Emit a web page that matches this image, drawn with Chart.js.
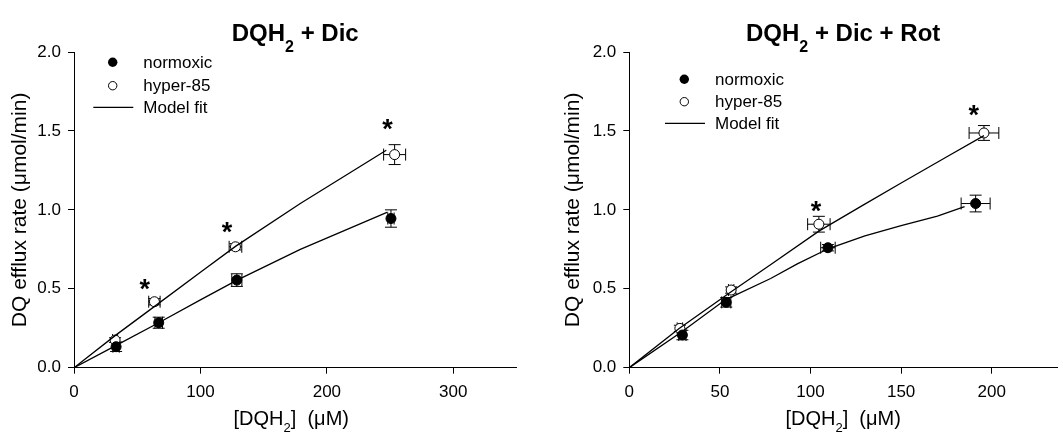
<!DOCTYPE html>
<html>
<head>
<meta charset="utf-8">
<script src="https://cdn.jsdelivr.net/npm/chart.js@4.4.1/dist/chart.umd.min.js"></script>
<style>
  html, body { margin: 0; padding: 0; background: #fff; }
  #wrap { position: relative; width: 1063px; height: 433px; background: #fff; }
  .panel { position: absolute; top: 0; height: 433px; }
  #left { left: 0; width: 540px; }
  #right { left: 540px; width: 523px; }
</style>
</head>
<body>
<div id="wrap">
  <div class="panel" id="left"><canvas id="chartLeft"></canvas></div>
  <div class="panel" id="right"><canvas id="chartRight"></canvas></div>
</div>
<script>
// shared ticks
const yTicks = [0, 0.5, 1.0, 1.5, 2.0]
const leftXTicks = [0, 100, 200, 300]
const rightXTicks = [0, 50, 100, 150, 200]

// panel 1: DQH2 + Dic
const dicNormX = [33.3, 67, 128.8, 250.7]
const dicNormY = [0.133, 0.285, 0.555, 0.945]
const dicNormXErr = [2.5, 3, 4, 2.5]
const dicNormYErr = [0.03, 0.035, 0.04, 0.055]
const dicHypX = [32.5, 63.6, 127.7, 253.6]
const dicHypY = [0.175, 0.418, 0.766, 1.35]
const dicHypXErr = [2, 4.5, 5, 8.7]
const dicHypYErr = [0.015, 0.02, 0.02, 0.063]
const dicNormFitX = [0, 33, 67, 100, 129, 179, 248]
const dicNormFitY = [0, 0.14, 0.285, 0.43, 0.555, 0.75, 0.985]
const dicHypFitX = [0, 32, 64, 100, 128, 179, 247]
const dicHypFitY = [0, 0.2, 0.39, 0.605, 0.77, 1.04, 1.378]
const dicStarX = [56, 121, 248]
const dicStarY = [0.53, 0.89, 1.54]

// panel 2: DQH2 + Dic + Rot
const rotNormX = [29.3, 53.5, 109.6, 191.1]
const rotNormY = [0.207, 0.414, 0.76, 1.04]
const rotNormXErr = [2, 2.5, 4, 8]
const rotNormYErr = [0.03, 0.03, 0.02, 0.053]
const rotHypX = [27.9, 56.2, 104.6, 195.7]
const rotHypY = [0.249, 0.492, 0.909, 1.487]
const rotHypXErr = [1.5, 1.5, 6.2, 8.2]
const rotHypYErr = [0.02, 0.02, 0.05, 0.047]
const rotNormFitX = [0, 29, 53, 78, 92.7, 110, 130, 150, 170, 185]
const rotNormFitY = [0, 0.228, 0.43, 0.565, 0.658, 0.755, 0.835, 0.9, 0.96, 1.02]
const rotHypFitX = [0, 27.5, 56.2, 78.3, 104.6, 129, 150, 175, 195.7]
const rotHypFitY = [0, 0.248, 0.481, 0.655, 0.865, 1.03, 1.17, 1.335, 1.47]
const rotStarX = [103, 190]
const rotStarY = [1.02, 1.63]

const legendLabels = ['normoxic', 'hyper-85', 'Model fit']
const FONT = '"Liberation Sans", Arial, Helvetica, sans-serif'

function pts(xs, ys) {
  return xs.map((x, i) => ({ x, y: ys[i] }))
}

function drawParts(ctx, parts, cx, y) {
  let total = 0
  parts.forEach((p) => {
    ctx.font = p.font
    p.w = ctx.measureText(p.t).width
    total += p.w
  })
  let x = cx - total / 2
  ctx.textAlign = 'left'
  ctx.textBaseline = 'alphabetic'
  parts.forEach((p) => {
    ctx.font = p.font
    ctx.fillText(p.t, x, y + (p.dy || 0))
    x += p.w
  })
}

const extras = {
  id: 'extras',
  beforeDraw(chart) {
    const ctx = chart.ctx
    ctx.save()
    ctx.fillStyle = '#fff'
    ctx.fillRect(0, 0, chart.width, chart.height)
    ctx.restore()
  },
  beforeDatasetsDraw(chart, args, opts) {
    const ctx = chart.ctx
    const xs = chart.scales.x
    const ys = chart.scales.y
    ctx.save()
    ctx.strokeStyle = '#000'
    ctx.lineWidth = 1
    const cap = 6
    opts.errors.forEach((e) => {
      e.x.forEach((xv, i) => {
        const px = xs.getPixelForValue(xv)
        const py = ys.getPixelForValue(e.y[i])
        const x0 = xs.getPixelForValue(xv - e.xErr[i])
        const x1 = xs.getPixelForValue(xv + e.xErr[i])
        const y0 = ys.getPixelForValue(e.y[i] - e.yErr[i])
        const y1 = ys.getPixelForValue(e.y[i] + e.yErr[i])
        ctx.beginPath()
        ctx.moveTo(x0, py); ctx.lineTo(x1, py)
        ctx.moveTo(x0, py - cap); ctx.lineTo(x0, py + cap)
        ctx.moveTo(x1, py - cap); ctx.lineTo(x1, py + cap)
        ctx.moveTo(px, y0); ctx.lineTo(px, y1)
        ctx.moveTo(px - cap, y0); ctx.lineTo(px + cap, y0)
        ctx.moveTo(px - cap, y1); ctx.lineTo(px + cap, y1)
        ctx.stroke()
      })
    })
    ctx.restore()
  },
  afterDraw(chart, args, opts) {
    const ctx = chart.ctx
    const xs = chart.scales.x
    const ys = chart.scales.y
    const area = chart.chartArea
    ctx.save()
    ctx.fillStyle = '#000'
    ctx.strokeStyle = '#000'

    // asterisks
    ctx.font = 'bold 27px ' + FONT
    ctx.textAlign = 'center'
    ctx.textBaseline = 'alphabetic'
    const m = ctx.measureText('*')
    const off = (m.actualBoundingBoxDescent - m.actualBoundingBoxAscent) / 2
    opts.stars.x.forEach((sx, i) => {
      ctx.fillText('*', xs.getPixelForValue(sx), ys.getPixelForValue(opts.stars.y[i]) - off)
    })

    // title
    const cx = (area.left + area.right) / 2
    const bold = 'bold 24px ' + FONT
    drawParts(ctx, [
      { t: 'DQH', font: bold },
      { t: '2', font: 'bold 16px ' + FONT, dy: 11 },
      { t: opts.titleRest, font: bold },
    ], cx, 41)

    // x title
    const reg = '20px ' + FONT
    drawParts(ctx, [
      { t: '[DQH', font: reg },
      { t: '2', font: '13px ' + FONT, dy: 7 },
      { t: ']  (\u03bcM)', font: reg },
    ], cx + opts.xTitleShift, 425)

    // y title
    ctx.save()
    ctx.translate(opts.yTitleX, (area.top + area.bottom) / 2)
    ctx.rotate(-Math.PI / 2)
    ctx.font = '21px ' + FONT
    ctx.textAlign = 'center'
    ctx.textBaseline = 'middle'
    ctx.fillText('DQ efflux rate (\u03bcmol/min)', 0, 0)
    ctx.restore()

    // legend
    const L = opts.legend
    ctx.font = '17px ' + FONT
    ctx.textAlign = 'left'
    ctx.textBaseline = 'middle'
    ctx.lineWidth = 1
    ctx.beginPath()
    ctx.arc(L.mx, L.rows[0], 4.7, 0, Math.PI * 2)
    ctx.fill()
    ctx.beginPath()
    ctx.arc(L.mx, L.rows[1], 4.2, 0, Math.PI * 2)
    ctx.fillStyle = '#fff'
    ctx.fill()
    ctx.stroke()
    ctx.fillStyle = '#000'
    ctx.lineWidth = 1.3
    ctx.beginPath()
    ctx.moveTo(L.lx0, L.rows[2]); ctx.lineTo(L.lx1, L.rows[2])
    ctx.stroke()
    legendLabels.forEach((t, i) => ctx.fillText(t, L.tx, L.rows[i] + 1))
    ctx.restore()
  },
}

function makeChart(id, cfg) {
  const axisGrid = { drawOnChartArea: false, drawTicks: true, tickLength: 6, color: '#000', lineWidth: 1 }
  const tickFont = { family: FONT, size: 17 }
  return new Chart(document.getElementById(id), {
    type: 'scatter',
    data: {
      datasets: [
        { type: 'line', data: pts(cfg.normFitX, cfg.normFitY), borderColor: '#000', borderWidth: 1.3, pointRadius: 0, fill: false, tension: 0, order: 0 },
        { type: 'line', data: pts(cfg.hypFitX, cfg.hypFitY), borderColor: '#000', borderWidth: 1.3, pointRadius: 0, fill: false, tension: 0, order: 0 },
        { data: pts(cfg.normX, cfg.normY), pointRadius: 5, backgroundColor: '#000', borderColor: '#000', borderWidth: 1, order: 1 },
        { data: pts(cfg.hypX, cfg.hypY), pointRadius: 5, backgroundColor: '#fff', borderColor: '#000', borderWidth: 1, order: 1 },
      ],
    },
    options: {
      responsive: true,
      maintainAspectRatio: false,
      animation: false,
      layout: { padding: { top: 52, right: cfg.padRight, left: 0, bottom: 0 } },
      scales: {
        x: {
          type: 'linear',
          min: 0,
          max: cfg.xMax,
          afterBuildTicks: (s) => { s.ticks = cfg.xTicks.map(v => ({ value: v })) },
          afterFit: (s) => { s.height = 65.3 },
          ticks: { font: tickFont, color: '#000', padding: 8, maxRotation: 0, callback: v => String(v) },
          grid: axisGrid,
          border: { color: '#000', width: 1 },
        },
        y: {
          type: 'linear',
          min: 0,
          max: 2,
          afterBuildTicks: (s) => { s.ticks = yTicks.map(v => ({ value: v })) },
          afterFit: (s) => { s.width = cfg.yWidth },
          ticks: { font: tickFont, color: '#000', padding: 7, callback: v => v.toFixed(1) },
          grid: axisGrid,
          border: { color: '#000', width: 1 },
        },
      },
      plugins: {
        legend: { display: false },
        tooltip: { enabled: false },
        extras: {
          errors: [
            { x: cfg.normX, y: cfg.normY, xErr: cfg.normXErr, yErr: cfg.normYErr },
            { x: cfg.hypX, y: cfg.hypY, xErr: cfg.hypXErr, yErr: cfg.hypYErr },
          ],
          stars: { x: cfg.starX, y: cfg.starY },
          titleRest: cfg.titleRest,
          xTitleShift: cfg.xTitleShift,
          yTitleX: cfg.yTitleX,
          legend: cfg.legend,
        },
      },
    },
    plugins: [extras],
  })
}

makeChart('chartLeft', {
  normX: dicNormX, normY: dicNormY, normXErr: dicNormXErr, normYErr: dicNormYErr,
  hypX: dicHypX, hypY: dicHypY, hypXErr: dicHypXErr, hypYErr: dicHypYErr,
  normFitX: dicNormFitX, normFitY: dicNormFitY, hypFitX: dicHypFitX, hypFitY: dicHypFitY,
  starX: dicStarX, starY: dicStarY,
  xMax: 350, xTicks: leftXTicks, padRight: 23.5, yWidth: 74,
  titleRest: ' + Dic', xTitleShift: -4, yTitleX: 20,
  legend: { mx: 112.7, tx: 143.3, lx0: 93.3, lx1: 133.3, rows: [62.3, 85.7, 107.3] },
})

makeChart('chartRight', {
  normX: rotNormX, normY: rotNormY, normXErr: rotNormXErr, normYErr: rotNormYErr,
  hypX: rotHypX, hypY: rotHypY, hypXErr: rotHypXErr, hypYErr: rotHypYErr,
  normFitX: rotNormFitX, normFitY: rotNormFitY, hypFitX: rotHypFitX, hypFitY: rotHypFitY,
  starX: rotStarX, starY: rotStarY,
  xMax: 236, xTicks: rightXTicks, padRight: 0, yWidth: 89.3,
  titleRest: ' + Dic + Rot', xTitleShift: 0, yTitleX: 33,
  legend: { mx: 144.3, tx: 175, lx0: 125, lx1: 165, rows: [79.3, 101.7, 123.3] },
})
</script>
</body>
</html>
